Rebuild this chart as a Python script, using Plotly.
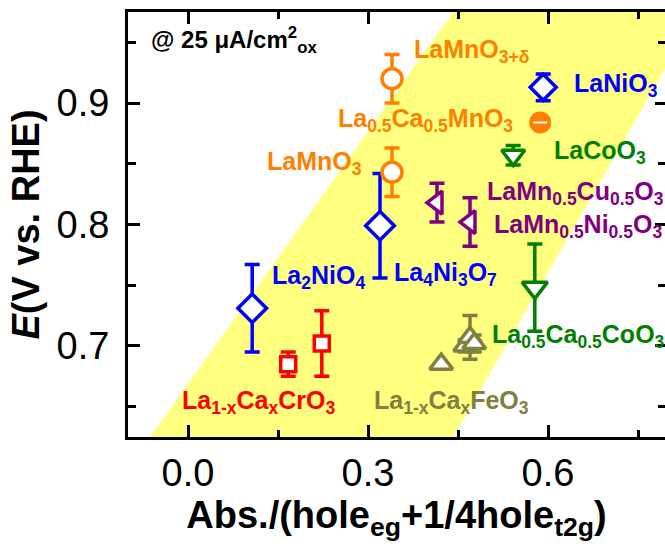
import plotly.graph_objects as go

# ---------------- data ----------------
band_x = [-0.063, 0.442, 0.85, 0.442]
band_y = [0.625, 0.975, 0.975, 0.625]

cro_x = [0.167, 0.223]
cro_y = [0.685, 0.702]
cro_err = [0.010, 0.027]

la2nio4_x = [0.107]
la2nio4_y = [0.731]
la2nio4_err = [0.036]

la4ni3o7_x = [0.32]
la4ni3o7_y = [0.799]
la4ni3o7_err = [0.043]

lanio3_x = [0.592]
lanio3_y = [0.913]
lanio3_err = [0.011]

lamno3_x = [0.34]
lamno3_y = [0.843]
lamno3_err = [0.02]

lamno3d_x = [0.34]
lamno3d_y = [0.920]
lamno3d_err = [0.02]

lcmo_x = [0.587]
lcmo_y = [0.884]

lacoo3_x = [0.542]
lacoo3_y = [0.857]
lacoo3_err = [0.008]

lcco_x = [0.578]
lcco_y = [0.748]
lcco_err = [0.036]

lamncu_x = [0.415]
lamncu_y = [0.818]
lamncu_err = [0.016]

lamnni_x = [0.47]
lamnni_y = [0.802]
lamnni_err = [0.02]

feo3_x = [0.422, 0.462, 0.470, 0.477]
feo3_y = [0.685, 0.700, 0.707, 0.702]
feo3_err = [0.0, 0.005, 0.018, 0.007]

labels = [
    "LaMnO<sub>3+δ</sub>",
    "La<sub>0.5</sub>Ca<sub>0.5</sub>MnO<sub>3</sub>",
    "LaMnO<sub>3</sub>",
    "LaNiO<sub>3</sub>",
    "LaCoO<sub>3</sub>",
    "LaMn<sub>0.5</sub>Cu<sub>0.5</sub>O<sub>3</sub>",
    "LaMn<sub>0.5</sub>Ni<sub>0.5</sub>O<sub>3</sub>",
    "La<sub>2</sub>NiO<sub>4</sub>",
    "La<sub>4</sub>Ni<sub>3</sub>O<sub>7</sub>",
    "La<sub>1-x</sub>Ca<sub>x</sub>CrO<sub>3</sub>",
    "La<sub>1-x</sub>Ca<sub>x</sub>FeO<sub>3</sub>",
    "La<sub>0.5</sub>Ca<sub>0.5</sub>CoO<sub>3</sub>",
]
label_x = [0.373, 0.247, 0.128, 0.64, 0.607, 0.495, 0.507, 0.137, 0.34, -0.013, 0.307, 0.503]
label_y = [0.943, 0.886, 0.851, 0.915, 0.86, 0.826, 0.799, 0.757, 0.759, 0.654, 0.654, 0.708]

ORANGE = "#FF7F00"
BLUE = "#0000FF"
RED = "#FF0000"
GREEN = "#007F00"
PURPLE = "#800080"
OLIVE = "#808040"
label_colors = [ORANGE, ORANGE, ORANGE, BLUE, GREEN, PURPLE, PURPLE, BLUE, BLUE, RED, OLIVE, GREEN]

FONT = "Liberation Sans, Arial, sans-serif"

fig = go.Figure()

# yellow band
fig.add_trace(go.Scatter(x=band_x, y=band_y, fill="toself", mode="none",
                         fillcolor="#FFFF80", hoverinfo="skip", showlegend=False))


def add_pts(xs, ys, errs, symbol, color, size, lw=3.5, fill="white"):
    fig.add_trace(go.Scatter(
        x=xs, y=ys, mode="markers",
        error_y=dict(type="data", array=errs, visible=True,
                     color=color, thickness=3.5, width=7.5),
        marker=dict(symbol=symbol, size=size, color=fill,
                    line=dict(color=color, width=lw)),
        showlegend=False, cliponaxis=False))


add_pts(cro_x, cro_y, cro_err, "square", RED, 15)
add_pts(la2nio4_x, la2nio4_y, la2nio4_err, "diamond", BLUE, 22)
add_pts(la4ni3o7_x, la4ni3o7_y, la4ni3o7_err, "diamond", BLUE, 22)
add_pts(lanio3_x, lanio3_y, lanio3_err, "diamond", BLUE, 20)
add_pts(lamno3_x, lamno3_y, lamno3_err, "circle", ORANGE, 20)
add_pts(lamno3d_x, lamno3d_y, lamno3d_err, "circle", ORANGE, 20)
add_pts(lacoo3_x, lacoo3_y, lacoo3_err, "triangle-down", GREEN, 20)
add_pts(lcco_x, lcco_y, lcco_err, "triangle-down", GREEN, 22)
add_pts(lamncu_x, lamncu_y, lamncu_err, "triangle-left", PURPLE, 20)
add_pts(lamnni_x, lamnni_y, lamnni_err, "triangle-left", PURPLE, 20)
add_pts(feo3_x, feo3_y, feo3_err, "triangle-up", OLIVE, 20)

# filled circle with white dash
fig.add_trace(go.Scatter(x=lcmo_x, y=lcmo_y, mode="markers",
                         marker=dict(symbol="circle", size=22, color=ORANGE,
                                     line=dict(color=ORANGE, width=0)),
                         showlegend=False))
fig.add_trace(go.Scatter(x=lcmo_x, y=lcmo_y, mode="markers",
                         marker=dict(symbol="line-ew", size=10,
                                     line=dict(color="white", width=2)),
                         showlegend=False))

# invisible trace on right axis
fig.add_trace(go.Scatter(x=[None], y=[None], yaxis="y2", showlegend=False))

for t, x, y, c in zip(labels, label_x, label_y, label_colors):
    fig.add_annotation(x=x, y=y, text="<b>" + t + "</b>", showarrow=False,
                       xanchor="left", yanchor="middle",
                       font=dict(family=FONT, size=25, color=c))

fig.add_annotation(x=-0.065, y=0.952, text="<b>@ 25 μA/cm<sup>2</sup><sub>ox</sub></b>",
                   showarrow=False, xanchor="left", yanchor="middle",
                   font=dict(family=FONT, size=24, color="black"))

fig.update_layout(
    width=665, height=551,
    margin=dict(l=128, r=0, t=12, b=114),
    plot_bgcolor="white", paper_bgcolor="white",
    font=dict(family=FONT, color="black"),
    xaxis=dict(range=[-0.1, 0.795], tickvals=[0.0, 0.3, 0.6],
               ticktext=["0.0", "0.3", "0.6"],
               showline=True, linecolor="black", linewidth=3, mirror="ticks",
               ticks="inside", ticklen=12, tickwidth=3, tickcolor="black",
               minor=dict(dtick=0.15, tick0=0, ticks="inside", ticklen=7,
                          tickwidth=3, tickcolor="black"),
               showgrid=False, zeroline=False,
               tickfont=dict(size=38, family=FONT),
               title=dict(text="<b>Abs./(hole<sub>eg</sub>+1/4hole<sub>t2g</sub>)</b>",
                          font=dict(size=38, family=FONT), standoff=9)),
    yaxis=dict(range=[0.625, 0.975], tickvals=[0.7, 0.8, 0.9],
               ticktext=["0.7", "0.8", "0.9"],
               showline=True, linecolor="black", linewidth=3, mirror=False,
               ticks="inside", ticklen=12, tickwidth=3, tickcolor="black",
               minor=dict(dtick=0.05, tick0=0.6, ticks="inside", ticklen=8,
                          tickwidth=3, tickcolor="black"),
               showgrid=False, zeroline=False,
               ticklabelstandoff=8,
               tickfont=dict(size=38, family=FONT),
               title=dict(text="<b><i>E</i>(V vs. RHE)</b>",
                          font=dict(size=38, family=FONT), standoff=6)),
    yaxis2=dict(range=[0.625, 0.975], overlaying="y", side="right",
                showline=False, showticklabels=False, showgrid=False, zeroline=False,
                tickvals=[0.7, 0.8, 0.9],
                ticks="inside", ticklen=10, tickwidth=3, tickcolor="black",
                minor=dict(dtick=0.05, tick0=0.6, ticks="inside", ticklen=7,
                           tickwidth=3, tickcolor="black")),
)

fig.write_html("out.html")
